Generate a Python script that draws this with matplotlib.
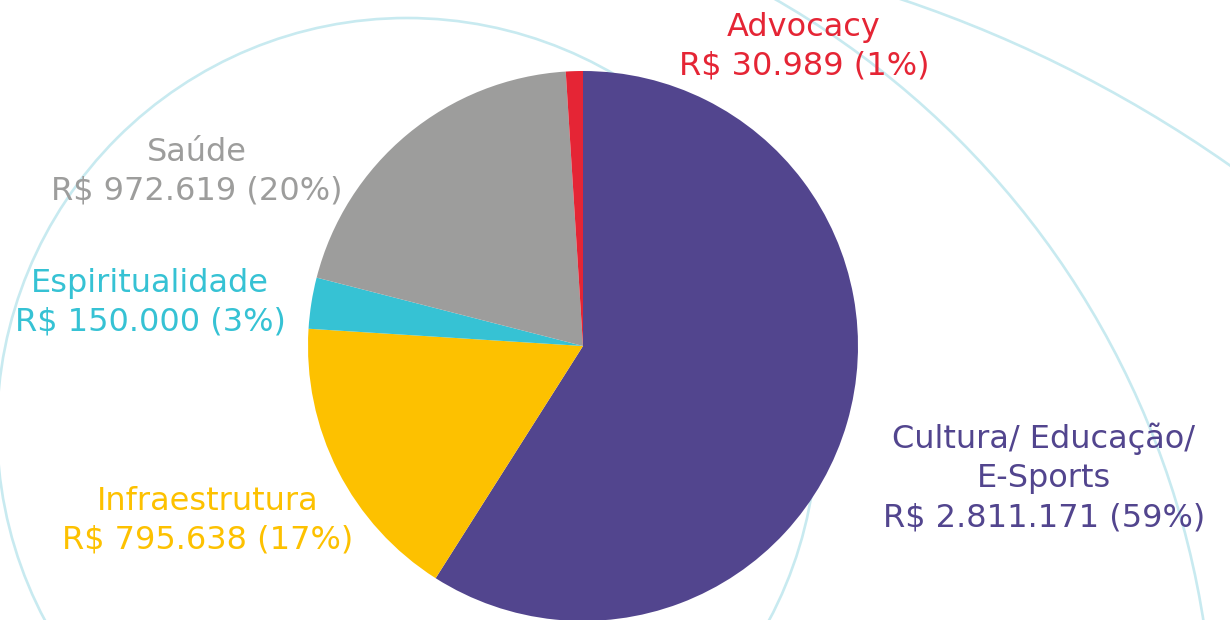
import matplotlib
matplotlib.use("Agg")
import matplotlib.pyplot as plt
from matplotlib.patches import Circle, Arc

# data
categories = ["Cultura/ Educação/\nE-Sports", "Infraestrutura", "Espiritualidade", "Saúde", "Advocacy"]
values = [2811171, 795638, 150000, 972619, 30989]
percents = [59, 17, 3, 20, 1]
colors = ["#52458e", "#fdc100", "#36c2d4", "#9d9d9c", "#e52535"]

W, H = 1230, 620
RING = "#c8eaf0"

def brl(v):
    return "R$ " + f"{v:,}".replace(",", ".")

fig = plt.figure(figsize=(W / 100, H / 100), dpi=100)
ax = fig.add_axes([0, 0, 1, 1])

# decorative background rings (centre x, centre y from top, radius, angle range)
ax.add_patch(Circle((407, H - 428), 410, fill=False, edgecolor=RING, lw=1.9, zorder=0))
ax.add_patch(Arc((342, H - 756), 2 * 872, 2 * 872, theta1=0, theta2=90,
                 edgecolor=RING, lw=1.9, zorder=0))
ax.add_patch(Arc((495, H - 1211), 2 * 1278, 2 * 1278, theta1=20, theta2=90,
                 edgecolor=RING, lw=1.9, zorder=0))

# the slices follow the rounded shares shown in the labels
ax.pie(percents, colors=colors, startangle=90, counterclock=False,
       center=(583, H - 346), radius=275, frame=True,
       wedgeprops=dict(linewidth=0))
ax.set_xlim(0, W)
ax.set_ylim(0, H)
ax.set_aspect("equal")
ax.axis("off")

# label positions (centre x, centre y from top)
label_pos = [(1044, 478), (208, 521), (150, 303), (197, 172), (804, 47)]
for name, v, p, c, (lx, ly) in zip(categories, values, percents, colors, label_pos):
    ax.text(lx, H - ly, f"{name}\n{brl(v)} ({p}%)", color=c, ha="center", va="center",
            fontsize=23, family="DejaVu Sans", linespacing=1.33, multialignment="center")

fig.savefig("out.png", dpi=100, facecolor="white")
